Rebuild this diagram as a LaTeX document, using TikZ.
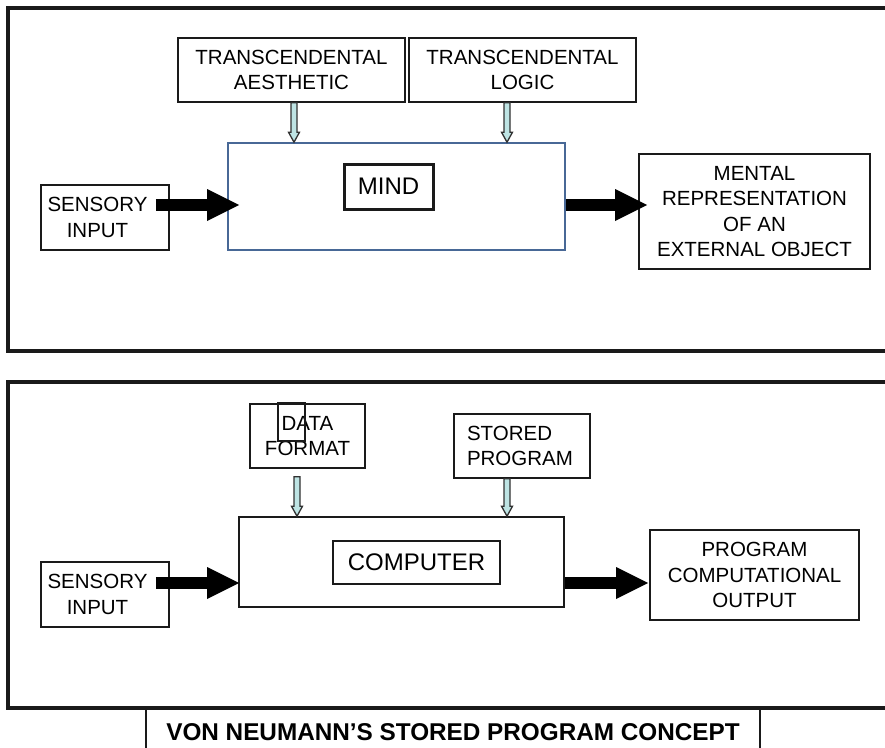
\documentclass[tikz,border=0pt]{standalone}
\usepackage{fontspec}
\setmainfont{Liberation Sans}
\usepackage{tikz}
\usetikzlibrary{arrows.meta,positioning,calc}
\definecolor{ink}{RGB}{26,26,26}
\definecolor{mindblue}{RGB}{72,104,150}
\definecolor{feedfill}{RGB}{190,228,228}
\newcommand{\feedarrow}[2]{%
  \draw[feed] let \p1=(#1), \p2=(#2) in
    (\x1-3pt,\y1) -- (\x1+3pt,\y1) -- (\x1+3pt,\y2+10pt) -- (\x1+5.5pt,\y2+10pt)
    -- (\x1,\y2) -- (\x1-5.5pt,\y2+10pt) -- (\x1-3pt,\y2+10pt) -- cycle;}

\begin{document}
\begin{tikzpicture}[
  x=1pt, y=-1pt,
  box/.style={draw=ink, line width=1.6pt, align=center, inner sep=0pt, font=\fontsize{20.5}{25.5}\selectfont},
  tag/.style={draw=ink, inner sep=0pt, font=\fontsize{24}{28}\selectfont},
  frame/.style={draw=ink, line width=3.5pt},
  big/.style={draw=black, line width=12pt, -{Triangle[length=32pt, width=32pt, line width=0pt]}},
  feed/.style={draw=ink!90, fill=feedfill, line width=1.3pt},
  rule/.style={draw=ink, line width=1.6pt}
]
  \useasboundingbox (0,0) rectangle (885,747);

  % upper panel: the mind
  \draw[frame] (895,8) -| (8,351) -- (895,351);
  \node[box, minimum width=227pt, minimum height=64pt] (aes) at (291.5,70) {TRANSCENDENTAL\\AESTHETIC};
  \node[box, minimum width=227pt, minimum height=64pt] (logic) at (522.5,70) {TRANSCENDENTAL\\LOGIC};
  \node[box, draw=mindblue, minimum width=337pt, minimum height=107pt] (mind) at (396.5,196.5) {};
  \node[tag, line width=3pt, minimum width=89pt, minimum height=45pt] (mindtag) at (388.5,186.5) {MIND};
  \node[box, minimum width=128pt, minimum height=65pt] (sense1) at (105,217.5) {SENSORY\hspace*{15pt}\\INPUT\hspace*{15pt}};
  \node[box, minimum width=231pt, minimum height=115pt] (mental) at (754.5,211.5) {MENTAL\\REPRESENTATION\\OF AN\\EXTERNAL OBJECT};

  \feedarrow{$(aes.south)+(2.5,0)$}{mind.north}
  \feedarrow{$(logic.south)+(-15.5,0)$}{mind.north}
  \coordinate (in1) at ([xshift=-14pt,yshift=12.5pt]sense1.east);
  \draw[big] (in1) -- ($(in1 -| mind.west)+(12,0)$);
  \draw[big] (in1 -| mind.east) -- ($(in1 -| mental.west)+(9,0)$);

  % lower panel: the computer
  \draw[frame] (895,382) -| (8,708) -- (895,708);
  \node[box, minimum width=115pt, minimum height=64pt] (data) at (307.5,436) {DATA\\FORMAT};
  \node[draw=ink, line width=1.4pt, minimum width=27pt, minimum height=38pt, inner sep=0pt] (datamark) at (291.5,422) {};
  \node[box, align=left, text width=110pt, minimum width=136pt, minimum height=64pt] (stored) at (522,446) {STORED\\PROGRAM};
  \node[box, minimum width=325pt, minimum height=90pt] (comp) at (401.5,562) {};
  \node[tag, line width=1.6pt, minimum width=167pt, minimum height=43pt] (comptag) at (416.5,562.5) {COMPUTER};
  \node[box, minimum width=128pt, minimum height=65pt] (sense2) at (105,594.5) {SENSORY\hspace*{15pt}\\INPUT\hspace*{15pt}};
  \node[box, minimum width=209pt, minimum height=90pt] (output) at (754.5,575) {PROGRAM\\COMPUTATIONAL\\OUTPUT};

  \feedarrow{$(data.south)+(-10.5,8)$}{comp.north}
  \feedarrow{$(stored.south)+(-15,0)$}{comp.north}
  \coordinate (in2) at ([xshift=-14pt,yshift=11.5pt]sense2.east);
  \draw[big] (in2) -- ($(in2 -| comp.west)+(1,0)$);
  \draw[big] (in2 -| comp.east) -- ($(in2 -| output.west)+(-1,0)$);

  % caption
  \node[font=\bfseries\fontsize{24.3}{28}\selectfont, minimum width=614pt, minimum height=48pt, inner sep=0pt] (title) at (453,732) {VON NEUMANN’S STORED PROGRAM CONCEPT};
  \draw[rule] (title.north west) -- (title.south west) (title.north east) -- (title.south east);
\end{tikzpicture}
\end{document}
